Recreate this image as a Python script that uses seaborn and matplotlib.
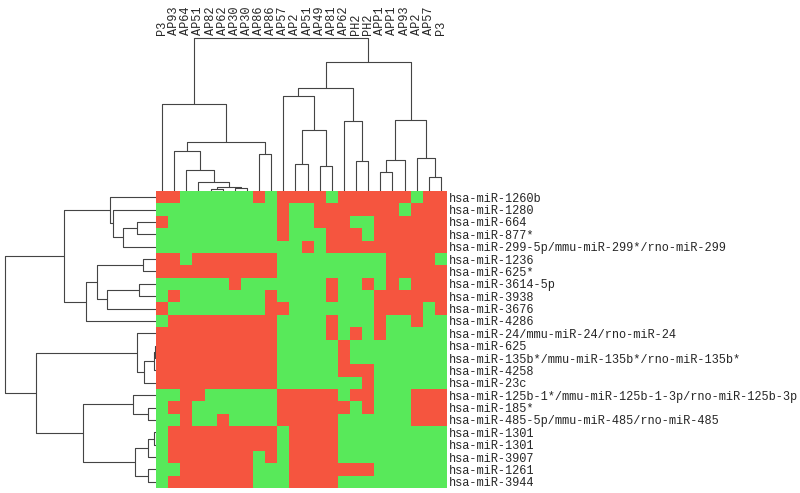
import numpy as np
import matplotlib
matplotlib.use("Agg")
import matplotlib.pyplot as plt
from matplotlib.colors import ListedColormap
import seaborn as sns

# sample labels (columns) and miRNA labels (rows)
col_labels = ["P3", "AP93", "AP64", "AP51", "AP82", "AP62", "AP30", "AP30",
              "AP86", "AP86", "AP57", "AP2", "AP51", "AP49", "AP81", "AP62",
              "PH2", "PH2", "APP1", "APP1", "AP93", "AP2", "AP57", "P3"]

row_labels = ["hsa-miR-1260b", "hsa-miR-1280", "hsa-miR-664", "hsa-miR-877*",
              "hsa-miR-299-5p/mmu-miR-299*/rno-miR-299", "hsa-miR-1236",
              "hsa-miR-625*", "hsa-miR-3614-5p", "hsa-miR-3938", "hsa-miR-3676",
              "hsa-miR-4286", "hsa-miR-24/mmu-miR-24/rno-miR-24", "hsa-miR-625",
              "hsa-miR-135b*/mmu-miR-135b*/rno-miR-135b*", "hsa-miR-4258",
              "hsa-miR-23c", "hsa-miR-125b-1*/mmu-miR-125b-1-3p/rno-miR-125b-3p",
              "hsa-miR-185*", "hsa-miR-485-5p/mmu-miR-485/rno-miR-485",
              "hsa-miR-1301", "hsa-miR-1301", "hsa-miR-3907", "hsa-miR-1261",
              "hsa-miR-3944"]

# 1 = red (up), 0 = green
cells = [
    "110000001011110111111011",
    "000000000010011111110111",
    "100000000010011100111111",
    "000000000010001110111111",
    "000000000000101111111111",
    "110111111100000000011110",
    "111111111100000000011111",
    "000000100000001001010111",
    "010000000100001000111111",
    "100000000110000000111101",
    "011111111100001000100100",
    "111111111100001010100000",
    "111111111100000100000000",
    "111111111100000100000000",
    "111111111100000111000000",
    "111111111100000001000000",
    "001100000011111011000111",
    "011000000011111101000111",
    "001001000011111000000111",
    "011111111101111000000000",
    "011111111101111000000000",
    "011111110101111000000000",
    "001111110001111111000000",
    "011111110001111000000000",
]

# merges: (left, right, height); ids >= 24 are earlier merges
col_links = [(4, 5, 1.5), (6, 7, 2.5), (24, 25, 4.0), (3, 26, 9.3),
             (2, 27, 20.7), (1, 28, 40.0), (8, 9, 37.3), (29, 30, 49.0),
             (0, 31, 87.3), (11, 12, 27.3), (13, 14, 24.7), (33, 34, 60.7),
             (10, 35, 95.0), (16, 17, 30.0), (15, 37, 70.0), (36, 38, 103.3),
             (18, 19, 19.0), (40, 20, 30.7), (22, 23, 14.3), (21, 42, 32.7),
             (41, 43, 71.0), (39, 44, 129.0), (32, 45, 153.3)]

row_links = [(2, 3, 19.3), (24, 4, 32.7), (1, 25, 42.7), (0, 26, 46.0),
             (5, 6, 12.7), (7, 8, 16.7), (29, 9, 49.3), (28, 30, 59.3),
             (31, 10, 70.0), (27, 32, 92.0), (12, 13, 1.0), (34, 14, 2.3),
             (35, 15, 11.7), (11, 36, 19.3), (17, 18, 7.7), (16, 38, 22.7),
             (19, 20, 1.7), (40, 21, 7.7), (22, 23, 8.0), (41, 42, 21.0),
             (39, 43, 72.7), (37, 44, 120.3), (33, 45, 151.0)]


def dendro_segments(links, n):
    pos = {i: i + 0.5 for i in range(n)}
    hgt = {i: 0.0 for i in range(n)}
    segs = []
    for k, (a, b, h) in enumerate(links):
        xa, xb = pos[a], pos[b]
        segs.append(([xa, xa, xb, xb], [hgt[a], h, h, hgt[b]]))
        pos[n + k] = (xa + xb) / 2
        hgt[n + k] = h
    return segs


sns.set_theme(style="white")
plt.rcParams["font.family"] = ["Liberation Mono", "DejaVu Sans Mono"]

W, H = 800, 493
fig = plt.figure(figsize=(W / 100, H / 100), dpi=100)

hx0, hx1, hy0, hy1 = 156, 447, 191, 488
ax_heat = fig.add_axes([hx0 / W, 1 - hy1 / H, (hx1 - hx0) / W, (hy1 - hy0) / H])
ax_top = fig.add_axes([hx0 / W, 1 - hy0 / H, (hx1 - hx0) / W, (hy0 - 35) / H])
ax_left = fig.add_axes([0, 1 - hy1 / H, hx0 / W, (hy1 - hy0) / H])

data = np.array([[int(c) for c in row] for row in cells])
cmap = ListedColormap(["#58e95a", "#f5553f"])
sns.heatmap(data, ax=ax_heat, cmap=cmap, vmin=0, vmax=1, cbar=False,
            xticklabels=False, yticklabels=row_labels)
ax_heat.yaxis.tick_right()
ax_heat.tick_params(axis="y", length=0, pad=1.5, labelsize=8.6, labelrotation=0)

line_kw = dict(color="#444444", lw=0.8)

for xs, ys in dendro_segments(col_links, len(col_labels)):
    ax_top.plot(xs, ys, **line_kw)
ax_top.set_xlim(0, len(col_labels))
ax_top.set_ylim(0, hy0 - 35)
ax_top.set_xticks(np.arange(len(col_labels)) + 0.5)
ax_top.set_xticklabels(col_labels, rotation=90)
ax_top.xaxis.tick_top()
ax_top.tick_params(axis="x", length=0, pad=0, labelsize=8.6)
ax_top.set_yticks([])
for s in ax_top.spines.values():
    s.set_visible(False)

for ys, xs in dendro_segments(row_links, len(row_labels)):
    ax_left.plot(xs, ys, **line_kw)
ax_left.set_ylim(len(row_labels), 0)
ax_left.set_xlim(hx0, 0)
ax_left.axis("off")

fig.savefig("out.png", dpi=100)
